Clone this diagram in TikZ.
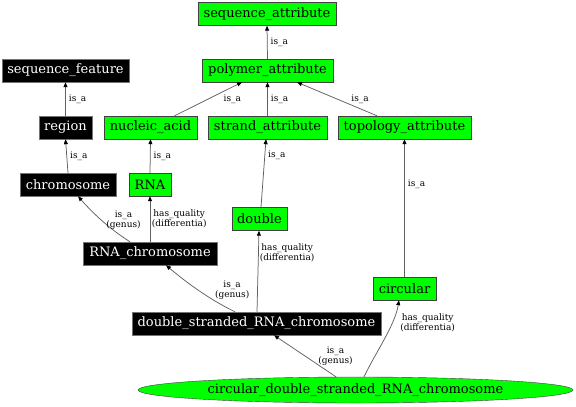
\documentclass[tikz,border=0pt]{standalone}
\usepackage{fontspec}
\setmainfont{DejaVu Serif}
\usetikzlibrary{arrows.meta, shapes.geometric}
\definecolor{termgreen}{HTML}{00FF00}
\definecolor{edgegray}{HTML}{606060}

\begin{document}
\begin{tikzpicture}[x=1pt, y=-1pt,
  term/.style={draw=black!75, fill=termgreen, minimum height=23pt, inner sep=0pt, font=\fontsize{13}{13}\selectfont},
  feature/.style={draw=black!55, fill=black, text=white, minimum height=23pt, inner sep=0pt, font=\fontsize{13}{13}\selectfont},
  rel/.style={draw=edgegray, line width=0.75pt, -{Triangle[length=5pt, width=4pt, color=black]}},
  lbl/.style={font=\fontsize{9}{8.5}\selectfont, inner sep=0pt, align=center}]

\useasboundingbox (0,0) rectangle (576,407);

\node[term, minimum width=138pt] (seqattr) at (267,14) {sequence\_attribute};
\node[term, minimum width=131pt] (polyattr) at (267.5,70.5) {polymer\_attribute};
\node[feature, minimum width=127pt] (seqfeat) at (65.5,70.5) {sequence\_feature};

\node[feature, minimum width=53pt] (region) at (65.5,127.5) {region};
\node[term, minimum width=93pt] (nucacid) at (150.5,127.5) {nucleic\_acid};
\node[term, minimum width=119pt] (strandattr) at (267.5,127.5) {strand\_attribute};
\node[term, minimum width=133pt] (topoattr) at (404.5,127.5) {topology\_attribute};

\node[feature, minimum width=96pt] (chrom) at (68,184.5) {chromosome};
\node[term, minimum width=42pt] (rna) at (150,184.5) {RNA};
\node[term, minimum width=55pt] (dbl) at (259.5,219) {double};
\node[feature, minimum width=134pt] (rnachrom) at (150,253.5) {RNA\_chromosome};
\node[term, minimum width=63pt] (circ) at (404.5,288.5) {circular};
\node[feature, minimum width=249pt] (dsrnachrom) at (256.5,323.5) {double\_stranded\_RNA\_chromosome};
\node[term, ellipse, minimum width=435pt, minimum height=26pt] (cdsrnachrom) at (355.5,390) {circular\_double\_stranded\_RNA\_chromosome};

\foreach \from/\to/\p in {polyattr/seqattr/0.5, region/seqfeat/0.5, strandattr/polyattr/0.5, chrom/region/0.5, rna/nucacid/0.5, circ/topoattr/0.67} {
  \draw[rel] (\from.north) -- (\to.south) node[lbl, pos=\p, anchor=west, xshift=3pt] {is\_a};
}

\draw[rel] ([xshift=24pt]nucacid.north) -- ([xshift=-25.5pt]polyattr.south) node[lbl, midway, anchor=west, xshift=15pt] {is\_a};
\draw[rel] ([xshift=-27.5pt]topoattr.north) -- ([xshift=29.5pt]polyattr.south) node[lbl, midway, anchor=west, xshift=14pt] {is\_a};
\draw[rel] ([xshift=1.5pt]dbl.north) -- ([xshift=-1.5pt]strandattr.south) node[lbl, pos=0.76, anchor=west, xshift=3pt] {is\_a};

\draw[rel] ([xshift=-20pt]rnachrom.north) .. controls +(-22,-14) and +(14,16) .. ([xshift=10pt]chrom.south) node[lbl, midway, anchor=west, xshift=5pt] {is\_a\\(genus)};
\draw[rel] (rnachrom.north) -- (rna.south) node[lbl, midway, anchor=west, xshift=1.5pt] {has\_quality\\(differentia)};

\draw[rel] ([xshift=-21.5pt]dsrnachrom.north) .. controls +(-25,-12) and +(20,17) .. ([xshift=16pt]rnachrom.south) node[lbl, midway, anchor=west, xshift=16pt] {is\_a\\(genus)};
\draw[rel] ([xshift=0.5pt]dsrnachrom.north) -- ([xshift=-0.5pt]dbl.south) node[lbl, pos=0.73, anchor=west, xshift=1pt] {has\_quality\\(differentia)};

\draw[rel] ([xshift=-19.5pt]cdsrnachrom.north) -- ([xshift=17.5pt]dsrnachrom.south) node[lbl, midway, anchor=west, xshift=13pt] {is\_a\\(genus)};
\draw[rel] ([xshift=8.5pt]cdsrnachrom.north) .. controls +(12,-25) and +(-4,25) .. ([xshift=-5.5pt]circ.south) node[lbl, pos=0.7, anchor=west, xshift=8pt] {has\_quality\\(differentia)};

\end{tikzpicture}
\end{document}
